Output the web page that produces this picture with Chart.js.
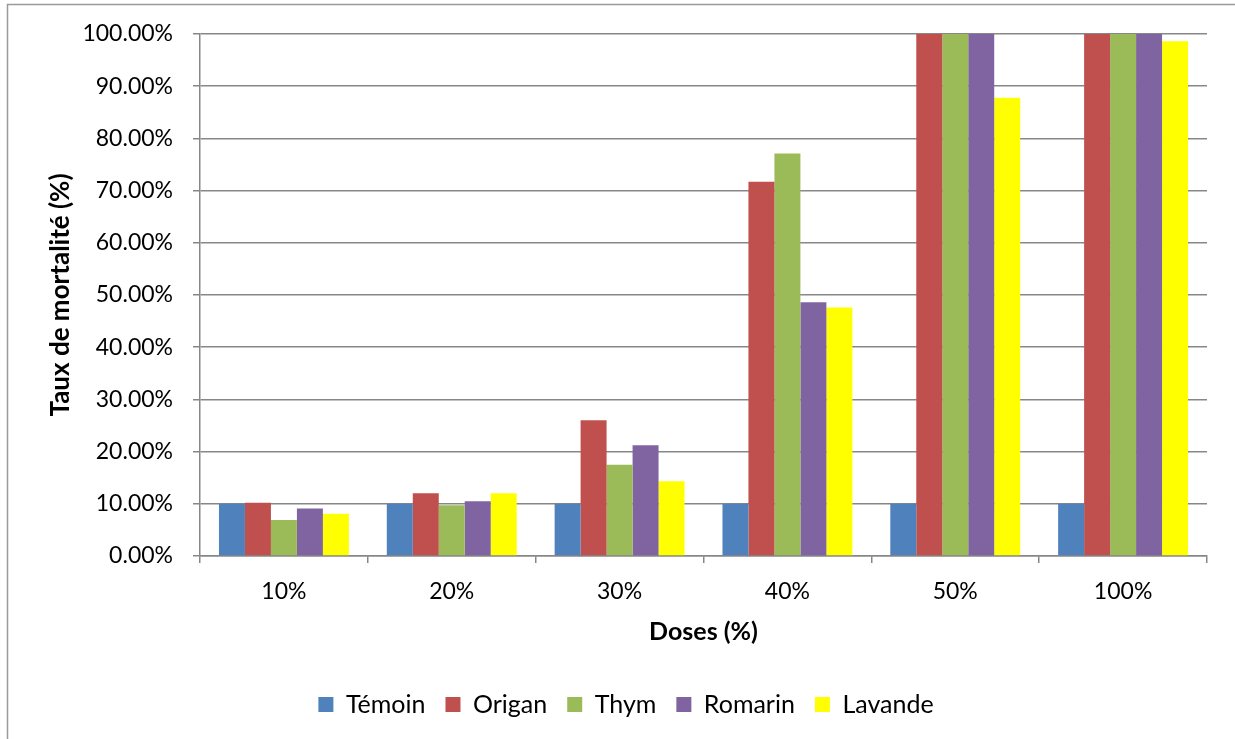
<!DOCTYPE html>
<html>
<head>
<meta charset="utf-8">
<script src="https://cdn.jsdelivr.net/npm/chart.js@4/dist/chart.umd.min.js"></script>
<style>
    body { margin: 0; background: #fff; }
    canvas { display: block; }
</style>
</head>
<body>
<canvas id="mortality_chart" width="1235" height="739"></canvas>
<script>
// doses on the x axis
var arrDoses = ['10%', '20%', '30%', '40%', '50%', '100%'];
var arrSeriesNames = ['Témoin', 'Origan', 'Thym', 'Romarin', 'Lavande'];

// mortality rate (%)
var arrTemoin = [10, 10, 10, 10, 10, 10];
var arrOrigan = [10.2, 12.0, 26.0, 71.7, 100, 100];
var arrThym = [6.9, 9.7, 17.5, 77.1, 100, 100];
var arrRomarin = [9.1, 10.5, 21.2, 48.6, 100, 100];
var arrLavande = [8.1, 12.0, 14.3, 47.6, 87.8, 98.6];

var arrColors = ['#4f81bd', '#c0504d', '#9bbb59', '#8064a2', '#ffff00'];
var arrValues = [arrTemoin, arrOrigan, arrThym, arrRomarin, arrLavande];

var strFont = 'Lato, Calibri, sans-serif';
var strGrey = '#878787';

// outer frame of the chart object, cut by the picture on the right and bottom
var framePlugin = {
    id: 'frame',
    beforeDraw: function (chart) {
        var ctx = chart.ctx;
        ctx.save();
        ctx.fillStyle = '#fff';
        ctx.fillRect(0, 0, chart.width, chart.height);
        ctx.strokeStyle = '#9a9a9a';
        ctx.lineWidth = 1.5;
        ctx.strokeRect(7.5, 4.5, chart.width + 20, chart.height + 20);
        ctx.restore();
    }
};

var objDatasets = arrSeriesNames.map(function (strName, i) {
    return {
        label: strName,
        data: arrValues[i],
        backgroundColor: arrColors[i],
        borderWidth: 0,
        categoryPercentage: 0.774,
        barPercentage: 1.0
    };
});

var ctx = document.getElementById('mortality_chart').getContext('2d');
var objChart = new Chart(ctx, {
    type: 'bar',
    data: {
        labels: arrDoses,
        datasets: objDatasets
    },
    plugins: [framePlugin],
    options: {
        responsive: false,
        animation: false,
        layout: {
            // left padding only shifts the legend centre, y axis width below keeps the plot at x=200
            padding: { top: 34, right: 28, left: 45, bottom: 12 }
        },
        plugins: {
            legend: {
                position: 'bottom',
                labels: {
                    font: { family: strFont, size: 25 },
                    color: '#000',
                    boxWidth: 15,
                    boxHeight: 15,
                    padding: 20
                }
            },
            tooltip: { enabled: false }
        },
        scales: {
            x: {
                afterFit: function (scale) {
                    scale.height = 116;
                },
                grid: {
                    drawOnChartArea: false,
                    drawTicks: true,
                    tickLength: 7,
                    color: strGrey,
                    lineWidth: 1.5
                },
                border: { color: strGrey, width: 1.5 },
                ticks: {
                    font: { family: strFont, size: 23 },
                    color: '#000',
                    padding: 15
                },
                title: {
                    display: true,
                    text: 'Doses (%)',
                    font: { family: strFont, size: 25, weight: 'bold' },
                    color: '#000',
                    padding: { top: 0, bottom: 25 }
                }
            },
            y: {
                min: 0,
                max: 100,
                afterFit: function (scale) {
                    scale.width = 155;
                },
                grid: {
                    tickLength: 7,
                    color: strGrey,
                    lineWidth: 1.5
                },
                border: { color: strGrey, width: 1.5 },
                ticks: {
                    stepSize: 10,
                    font: { family: strFont, size: 23 },
                    color: '#000',
                    padding: 20,
                    callback: function (value) {
                        return value.toFixed(2) + '%';
                    }
                },
                title: {
                    display: true,
                    text: 'Taux de mortalité (%)',
                    font: { family: strFont, size: 26, weight: 'bold' },
                    color: '#000',
                    padding: { top: 0, bottom: 0 }
                }
            }
        }
    }
});
</script>
</body>
</html>
